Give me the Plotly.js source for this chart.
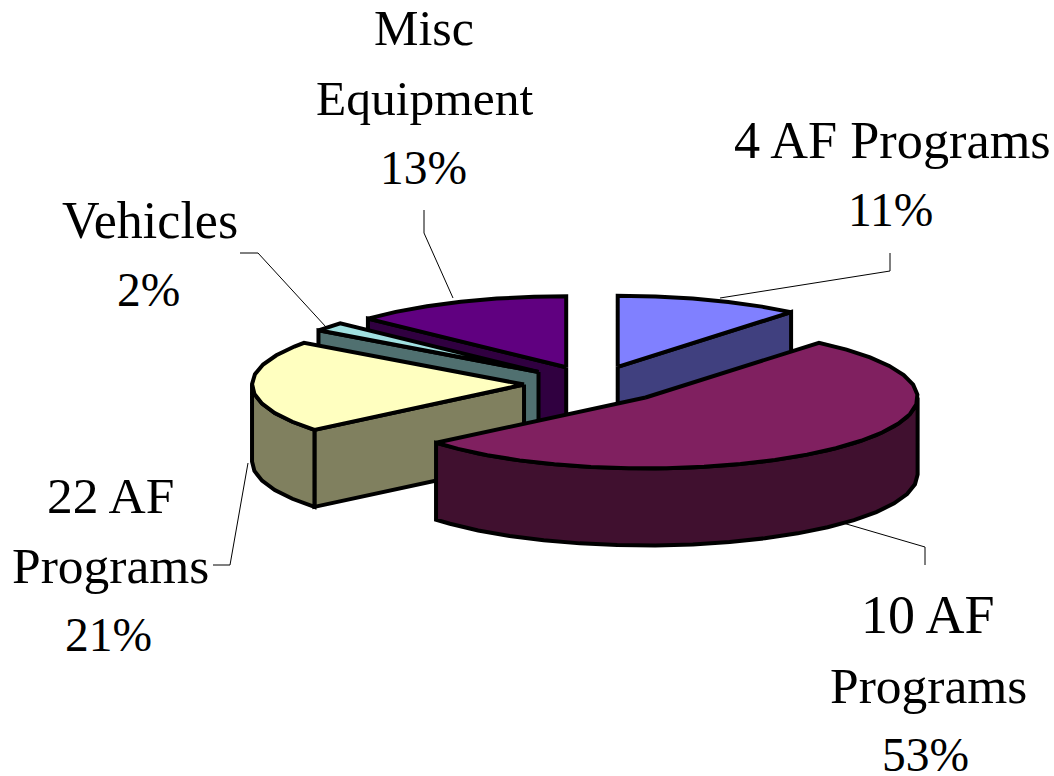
<!DOCTYPE html>
<html>
<head>
<meta charset="utf-8">
<script src="https://cdn.plot.ly/plotly-3.0.1.min.js"></script>
<style>html,body{margin:0;padding:0;background:#fff}#chart{width:1054px;height:776px}</style>
</head>
<body>
<div id="chart"></div>
<script>
// Data, in the pie's drawing order (clockwise from 12 o'clock)
const categories = ["4 AF Programs", "10 AF Programs", "22 AF Programs", "Vehicles", "Misc Equipment"];
const shares = [11, 53, 21, 2, 13];
const slicePull = [70, 73, 70, 72, 70];
const topColors = ["#8080ff", "#802060", "#ffffc0", "#a0e0e0", "#600080"];
const sideColors = ["#40407f", "#40102f", "#80805f", "#507070", "#300040"];
const paintOrder = [4, 3, 2, 0, 1];

// Label lines and their positions: text, x, y, font size
const labelLines = [
  ["4 AF Programs", 892, 140, 52.3], ["11%", 890, 210, 47.5],
  ["10 AF", 928, 615, 54], ["Programs", 928, 685, 51.5], ["53%", 925, 755, 47.5],
  ["22 AF", 110, 495, 51.5], ["Programs", 110, 565, 51.5], ["21%", 108, 635, 47.5],
  ["Vehicles", 150, 220, 52], ["2%", 148, 290, 47.5],
  ["Misc", 424, 28, 50], ["Equipment", 424, 98, 49.5], ["13%", 423, 168, 47.5]
];
const leaderPaths = [
  "M720,298 L890,271 L890,253",
  "M843,523 L925,547 L925,565",
  "M248,463 L230,565 L213,565",
  "M326,327 L258,253 L240,253",
  "M453,298 L424,233 L424,210"
];

// Pie projection
const cx = 594, cy = 384, rx = 272, ry = 71, depth = 77, stepDeg = 8;
const rad = d => d * Math.PI / 180;
const total = shares.reduce((a, b) => a + b, 0);

function rim(apex, deg) {
  return [apex[0] + rx * Math.sin(rad(deg)), apex[1] - ry * Math.cos(rad(deg))];
}
function arc(apex, from, to) {
  const pts = [];
  for (let d = from; d < to; d += stepDeg) pts.push(rim(apex, d));
  pts.push(rim(apex, to));
  return pts;
}
function poly(pts, fill) {
  const closed = pts.concat([pts[0]]);
  return {
    type: "scatter", mode: "lines", fill: "toself", fillcolor: fill,
    x: closed.map(p => p[0]), y: closed.map(p => p[1]),
    line: { color: "#000", width: 4, shape: "linear" },
    hoverinfo: "skip", showlegend: false
  };
}
const down = p => [p[0], p[1] + depth];

let cum = 0;
const slices = shares.map((v, i) => {
  const start = cum / total * 360;
  cum += v;
  const end = cum / total * 360;
  const mid = (start + end) / 2;
  const pull = slicePull[i];
  const apex = [cx + pull * Math.sin(rad(mid)), cy - pull * (ry / rx) * Math.cos(rad(mid))];
  return { i, start, end, apex };
});

const traces = [];
paintOrder.forEach(k => {
  const s = slices[k];
  const sin0 = Math.sin(rad(s.start)), sin1 = Math.sin(rad(s.end));
  // cut faces that look towards the viewer
  if (sin0 < -1e-6) {
    const e = rim(s.apex, s.start);
    traces.push(poly([s.apex, e, down(e), down(s.apex)], sideColors[k]));
  }
  if (sin1 > 1e-6) {
    const e = rim(s.apex, s.end);
    traces.push(poly([s.apex, e, down(e), down(s.apex)], sideColors[k]));
  }
  // outer wall, front half only
  const a = Math.max(s.start, 90), b = Math.min(s.end, 270);
  if (b > a) {
    const edge = arc(s.apex, a, b);
    traces.push(poly(edge.concat(edge.slice().reverse().map(down)), sideColors[k]));
  }
  // top face
  traces.push(poly([s.apex].concat(arc(s.apex, s.start, s.end)), topColors[k]));
});

const layout = {
  width: 1054, height: 776,
  margin: { l: 0, r: 0, t: 0, b: 0 },
  paper_bgcolor: "#fff", plot_bgcolor: "#fff",
  showlegend: false,
  xaxis: { range: [0, 1054], visible: false, fixedrange: true },
  yaxis: { range: [776, 0], visible: false, fixedrange: true },
  shapes: leaderPaths.map(path => ({
    type: "path", path, xref: "x", yref: "y",
    line: { color: "#000", width: 1 }, layer: "below"
  })),
  annotations: labelLines.map(([text, x, y, size]) => ({
    text, x, y, xref: "x", yref: "y", showarrow: false,
    xanchor: "center", yanchor: "middle",
    font: { family: "Liberation Serif, serif", size, color: "#000" }
  }))
};

Plotly.newPlot("chart", traces, layout, { displayModeBar: false, staticPlot: true });
</script>
</body>
</html>
